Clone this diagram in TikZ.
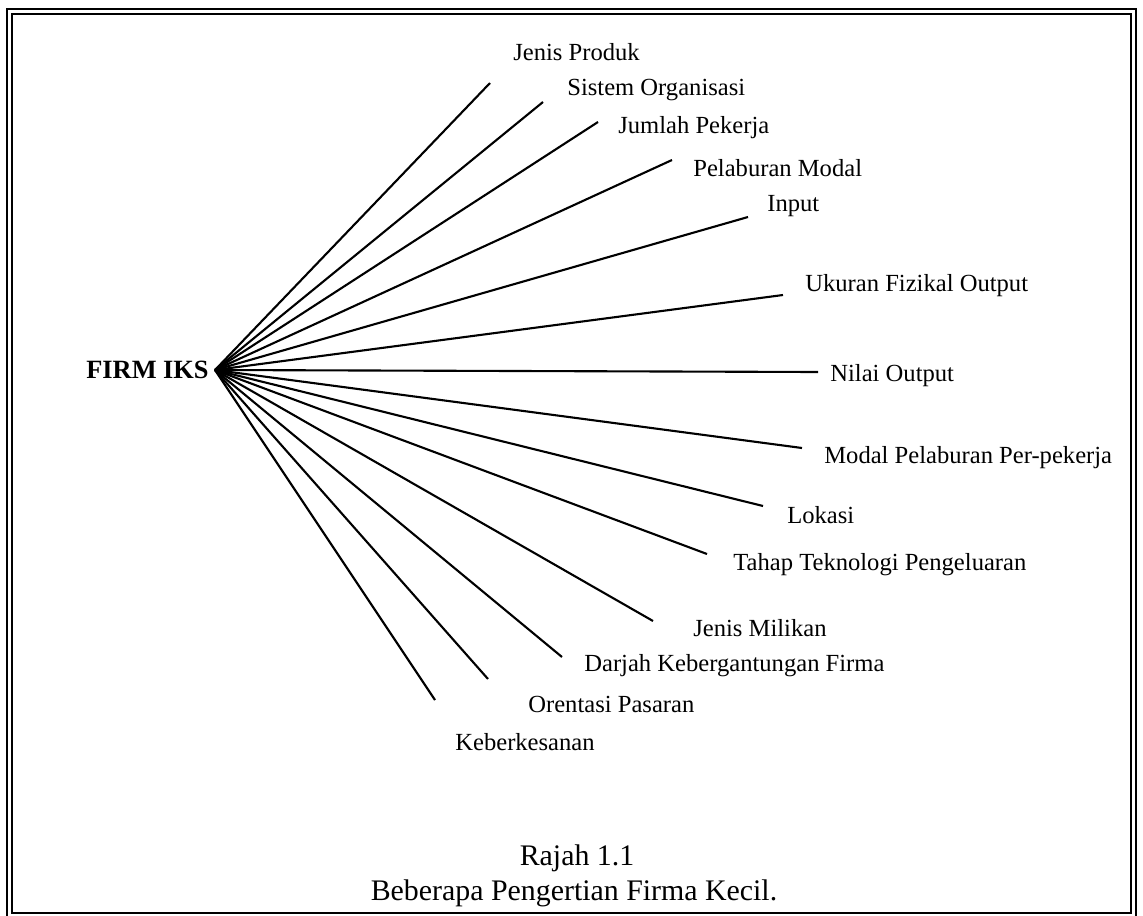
\documentclass[tikz,border=0pt]{standalone}
\usepackage{fontspec}
\setmainfont{Liberation Serif}
\tikzstyle{term}=[anchor=west,inner sep=0pt,font=\fontsize{14}{16}\selectfont]
\tikzstyle{spoke}=[draw,line width=1.2pt,-]
\tikzstyle{frame}=[draw,line width=1.1pt]
\tikzstyle{caption}=[inner sep=0pt,font=\fontsize{17}{20}\selectfont]
\begin{document}
\begin{tikzpicture}[x=0.02cm,y=-0.02cm]
    \useasboundingbox (0,0) rectangle (1143,916);
    % double frame
    \draw[frame] (7,916) -- (7,9) -- (1136,9) -- (1136,916);
    \draw[frame] (12,14) rectangle (1131,913);

    \node[anchor=east,inner sep=0pt,font=\bfseries\fontsize{15}{18}\selectfont] (firm) at (209,370) {FIRM IKS};
    \coordinate (hub) at (215,370);

    \foreach \pos/\name/\lbl in {{(513,52)/produk/Jenis Produk}, {(567,90)/organisasi/Sistem Organisasi},
                                 {(618,128)/pekerja/Jumlah Pekerja}, {(693,168)/modal/Pelaburan Modal},
                                 {(767,206)/input/Input}, {(805,286)/fizikal/Ukuran Fizikal Output},
                                 {(830,376)/nilai/Nilai Output}, {(824,458)/perpekerja/Modal Pelaburan Per-pekerja},
                                 {(787,515)/lokasi/Lokasi}, {(733,565)/teknologi/Tahap Teknologi Pengeluaran},
                                 {(693,628)/milikan/Jenis Milikan}, {(584,666)/darjah/Darjah Kebergantungan Firma},
                                 {(528,704)/pasaran/Orentasi Pasaran}, {(455,742)/keberkesanan/Keberkesanan}}
        \node[term] (\name) at \pos {\lbl};

    \foreach \pos/\name in {{(490,83)/produk}, {(543,102)/organisasi}, {(598,122)/pekerja},
                            {(672,160)/modal}, {(748,217)/input}, {(783,295)/fizikal},
                            {(818,372)/nilai}, {(802,448)/perpekerja}, {(763,506)/lokasi},
                            {(707,554)/teknologi}, {(653,621)/milikan}, {(562,657)/darjah},
                            {(488,679)/pasaran}, {(435,700)/keberkesanan}}
        \path \pos coordinate (\name end);

    \foreach \name in {produk,organisasi,pekerja,modal,input,fizikal,nilai,
                       perpekerja,lokasi,teknologi,milikan,darjah,pasaran,keberkesanan}
        \path[spoke] (hub) -- (\name end);

    % caption
    \node[caption] (rajah) at (577,858) {Rajah 1.1};
    \node[caption] (judul) at (574,893) {Beberapa Pengertian Firma Kecil.};
\end{tikzpicture}
\end{document}
